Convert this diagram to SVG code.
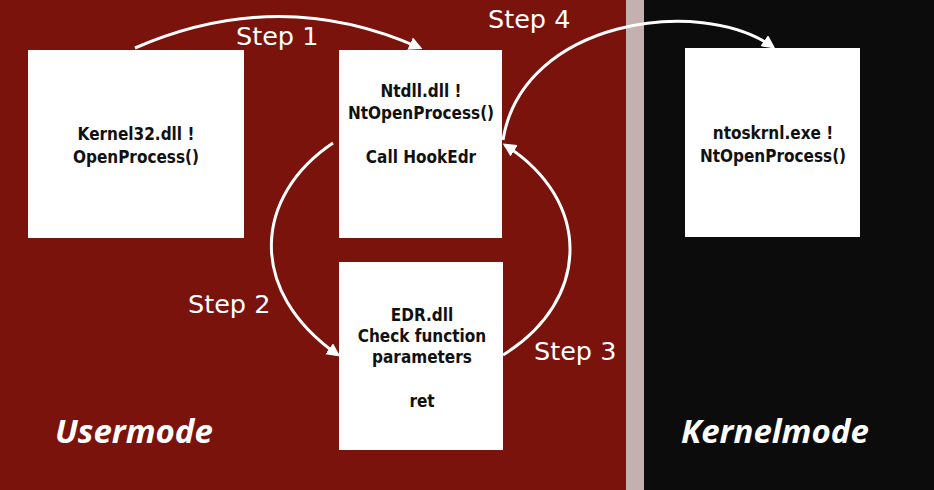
<svg xmlns="http://www.w3.org/2000/svg" width="934" height="490" viewBox="0 0 934 490">
<style>
.box{fill:#ffffff}
.t{font-family:"DejaVu Sans Condensed","DejaVu Sans",sans-serif;font-weight:bold;font-stretch:condensed;font-size:17px;fill:#111;text-anchor:middle}
.step{font-family:"DejaVu Sans",sans-serif;font-size:25.5px;fill:#fff}
.mode{font-family:"Open Sans",sans-serif;font-weight:bold;font-style:italic;font-size:33px;fill:#fff}
.c{fill:none;stroke:#fff;stroke-width:3;marker-end:url(#ah)}
</style>
<defs>
<marker id="ah" viewBox="0 0 10 10" refX="8" refY="5" markerWidth="4.5" markerHeight="4.5" orient="auto" markerUnits="strokeWidth">
<path d="M0,0 L10,5 L0,10 z" fill="#fff"/>
</marker>
</defs>
<rect x="0" y="0" width="626" height="490" fill="#7a130c"/>
<rect x="626" y="0" width="18" height="490" fill="#c4b0b0"/>
<rect x="644" y="0" width="290" height="490" fill="#0c0c0c"/>
<g id="kernel32">
<rect class="box" x="28" y="50" width="216" height="188"/>
<text class="t" x="136" y="140">Kernel32.dll !</text>
<text class="t" x="136" y="163">OpenProcess()</text>
</g>
<g id="ntdll">
<rect class="box" x="339" y="50" width="163" height="188"/>
<text class="t" x="421" y="97">Ntdll.dll !</text>
<text class="t" x="421" y="119">NtOpenProcess()</text>
<text class="t" x="421" y="163">Call HookEdr</text>
</g>
<g id="edr">
<rect class="box" x="339" y="262" width="164" height="188"/>
<text class="t" x="422" y="321">EDR.dll</text>
<text class="t" x="422" y="342">Check function</text>
<text class="t" x="422" y="363">parameters</text>
<text class="t" x="422" y="407">ret</text>
</g>
<g id="ntoskrnl">
<rect class="box" x="685" y="48" width="175" height="189"/>
<text class="t" x="773" y="139">ntoskrnl.exe !</text>
<text class="t" x="773" y="162">NtOpenProcess()</text>
</g>
<g id="connectors">
<path class="c" d="M135,48 Q280,-15 420,48"/>
<path class="c" d="M333,143 C255,195 245,290 338,355"/>
<path class="c" d="M503,355 C592,300 592,200 505,145"/>
<path class="c" d="M503,140 C522,20 700,-5 773,47"/>
</g>
<g id="labels">
<text class="step" x="236" y="45">Step 1</text>
<text class="step" x="188" y="313">Step 2</text>
<text class="step" x="534" y="360">Step 3</text>
<text class="step" x="488" y="28">Step 4</text>
<text class="mode" x="55" y="443">Usermode</text>
<text class="mode" x="681" y="443">Kernelmode</text>
</g>
</svg>
